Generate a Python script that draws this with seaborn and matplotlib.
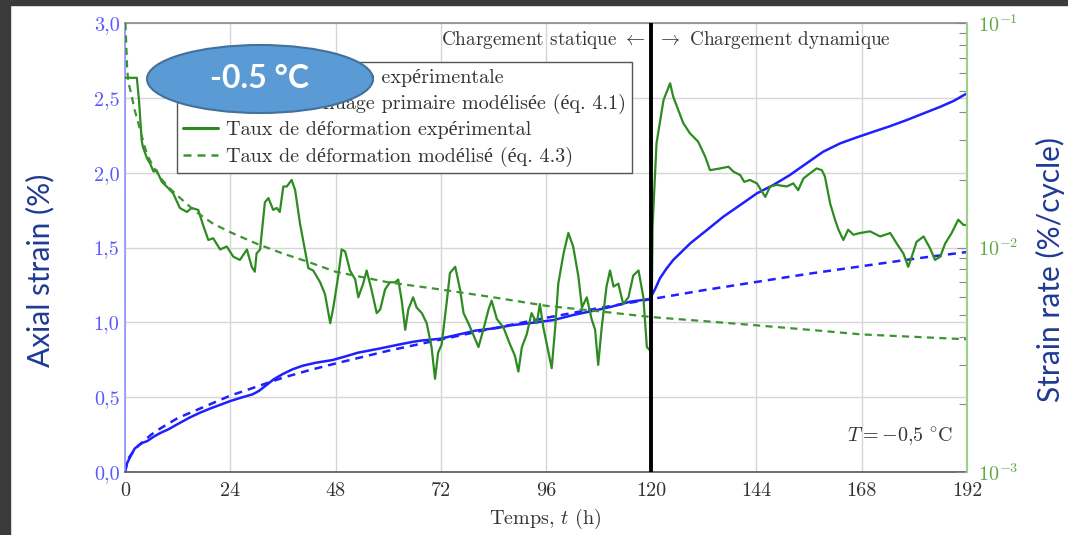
import matplotlib
matplotlib.use("Agg")
import matplotlib.pyplot as plt
import seaborn as sns
from matplotlib.patches import Ellipse, Rectangle
from matplotlib.lines import Line2D
from matplotlib.ticker import FixedLocator, FixedFormatter, NullFormatter

# ---------------- data ----------------
# experimental axial strain (%) vs time (h)
t_strain_exp = [0, 0.5, 1, 1.5, 2.2, 3.2, 4, 5.1, 6.5, 8, 9.9, 12, 14.7, 17, 19.5, 22, 24,
                26.5, 29.1, 30.5, 32, 33.9, 36, 38.2, 40.5, 43.5, 47.3, 50, 53.1, 57.9,
                62.7, 65.7, 67.5, 71.8, 77.2, 80, 84.8, 88, 92.4, 97.7, 102.2, 107.6, 111,
                115.2, 119.7, 120.3, 121, 122, 123.5, 125, 128.9, 132.7, 136.4, 140.3,
                144.1, 147.8, 151.6, 155.4, 159.2, 163.1, 166.8, 170.6, 174.4, 178.2, 182,
                185.9, 189, 192]
strain_exp = [0, 0.06, 0.09, 0.12, 0.156, 0.18, 0.195, 0.207, 0.235, 0.26, 0.285, 0.32,
              0.363, 0.395, 0.425, 0.452, 0.474, 0.497, 0.519, 0.541, 0.575, 0.619, 0.655,
              0.686, 0.71, 0.73, 0.748, 0.77, 0.797, 0.824, 0.853, 0.870, 0.878, 0.890,
              0.926, 0.945, 0.962, 0.98, 0.995, 1.015, 1.049, 1.082, 1.105, 1.138, 1.156,
              1.19, 1.23, 1.295, 1.36, 1.416, 1.528, 1.617, 1.705, 1.784, 1.862, 1.917,
              1.984, 2.062, 2.14, 2.196, 2.235, 2.273, 2.31, 2.351, 2.395, 2.44, 2.48, 2.53]

# modelled primary creep strain (eq. 4.1)
t_strain_mod = [0, 0.5, 1, 2, 3, 4, 6, 8, 12, 16, 20, 24, 30, 36, 42, 48, 60, 72, 84, 96,
                108, 120, 132, 144, 156, 168, 180, 192]
strain_mod = [0, 0.07, 0.10, 0.14, 0.175, 0.20, 0.25, 0.29, 0.36, 0.41, 0.46, 0.51, 0.57,
              0.63, 0.68, 0.725, 0.81, 0.885, 0.96, 1.03, 1.095, 1.155, 1.215, 1.27, 1.325,
              1.375, 1.425, 1.47]

# experimental strain rate (%/cycle)
t_rate_exp = [0, 1.0, 2.0, 2.7, 3.2, 3.8, 4.1, 5.0, 5.7, 6.5, 7.2, 8.4, 9.5, 11.0, 12.5,
              14.1, 15.2, 16.7, 17.8, 19.0, 20.1, 21.7, 23.2, 24.7, 26.2, 27.8, 28.9, 29.6,
              30.0, 30.8, 31.9, 32.7, 33.8, 34.6, 35.3, 36.1, 36.9, 38.0, 38.8, 39.9, 41.0,
              41.8, 42.9, 44.5, 45.6, 46.8, 47.5, 48.6, 49.4, 50.2, 51.3, 52.5, 53.2, 54.3,
              55.1, 56.2, 57.4, 58.2, 59.3, 60.4, 61.6, 62.3, 63.1, 63.9, 64.6, 65.7, 66.5,
              67.7, 68.8, 69.9, 70.7, 71.4, 72.2, 73.4, 74.1, 75.3, 76.4, 77.2, 78.3, 79.4,
              80.6, 81.7, 82.9, 83.6, 84.8, 86.3, 87.8, 88.9, 89.7, 90.5, 91.6, 92.7, 93.9,
              94.6, 95.4, 96.2, 97.3, 98.1, 98.8, 100.0, 101.1, 102.2, 103.4, 104.2, 105.3,
              106.4, 107.2, 107.9, 108.7, 109.8, 110.6, 111.4, 112.5, 113.6, 114.8, 115.9,
              117.1, 118.2, 119.0, 119.6, 120.0, 120.3, 121.2, 122.8, 124.3, 125.0, 127.3,
              128.8, 130.7, 132.3, 133.4, 135.7, 137.6, 138.7, 140.3, 141.2, 142.5, 144.1,
              146.0, 147.1, 148.6, 150.9, 152.4, 153.5, 154.7, 156.2, 157.7, 158.9, 159.6,
              160.8, 161.9, 162.7, 163.8, 164.9, 166.1, 167.6, 169.9, 172.2, 174.5, 176.0,
              177.5, 178.6, 179.4, 180.5, 182.1, 183.6, 184.7, 185.9, 187.0, 188.5, 190.0,
              191.2, 192.0]
rate_exp = [0.057, 0.057, 0.057, 0.057, 0.045, 0.030, 0.028, 0.0250, 0.0237, 0.0218, 0.0221,
            0.0196, 0.0187, 0.0174, 0.0150, 0.0144, 0.0150, 0.0147, 0.0126, 0.0108, 0.0110,
            0.0098, 0.0101, 0.0091, 0.0088, 0.0098, 0.0082, 0.0078, 0.0094, 0.0098, 0.0159,
            0.0166, 0.0147, 0.0150, 0.0144, 0.0187, 0.0187, 0.0200, 0.0180, 0.0128, 0.0098,
            0.0081, 0.0079, 0.0070, 0.0062, 0.0046, 0.0054, 0.0074, 0.0098, 0.0096, 0.0079,
            0.0072, 0.0060, 0.0069, 0.0079, 0.0065, 0.0051, 0.0053, 0.0065, 0.0070, 0.0070,
            0.0072, 0.0058, 0.0043, 0.0053, 0.0060, 0.0054, 0.0051, 0.0046, 0.0036, 0.0026,
            0.0034, 0.0037, 0.0058, 0.0077, 0.0082, 0.0065, 0.0051, 0.0046, 0.0041, 0.0036,
            0.0043, 0.0053, 0.0058, 0.0048, 0.0044, 0.0037, 0.0033, 0.0028, 0.0036, 0.0041,
            0.0051, 0.0046, 0.0056, 0.0044, 0.0037, 0.0029, 0.0044, 0.0069, 0.0094, 0.0116,
            0.0101, 0.0074, 0.0054, 0.0060, 0.0048, 0.0043, 0.0030, 0.0044, 0.0067, 0.0079,
            0.0067, 0.0069, 0.0056, 0.0060, 0.0075, 0.0079, 0.0060, 0.0036, 0.0035, 0.0034,
            0.0124, 0.0291, 0.0454, 0.0539, 0.0470, 0.0358, 0.0323, 0.0296, 0.0254, 0.0221,
            0.0225, 0.0229, 0.0218, 0.0210, 0.0196, 0.0200, 0.0193, 0.0168, 0.0187, 0.0190,
            0.0187, 0.0193, 0.0180, 0.0203, 0.0214, 0.0225, 0.0221, 0.0207, 0.0157, 0.0133,
            0.0120, 0.0108, 0.0120, 0.0114, 0.0116, 0.0118, 0.0112, 0.0116, 0.0104, 0.0094,
            0.0082, 0.0091, 0.0106, 0.0112, 0.0099, 0.0088, 0.0091, 0.0104, 0.0116, 0.0133,
            0.0126, 0.0126]

# modelled strain rate (eq. 4.3)
t_rate_mod = [0.1, 0.5, 0.8, 1.25, 2.2, 3, 3.7, 5, 6.5, 8, 10, 12, 16, 20, 24, 30, 36, 42,
              48, 60, 72, 84, 96, 108, 120, 132, 144, 156, 168, 180, 192]
rate_mod = [0.100, 0.062, 0.054, 0.050, 0.041, 0.036, 0.032, 0.026, 0.0228, 0.0205, 0.0185,
            0.0170, 0.0145, 0.0128, 0.0117, 0.0104, 0.0094, 0.0086, 0.0078, 0.0070, 0.0065,
            0.0060, 0.0055, 0.0052, 0.0049, 0.0047, 0.0045, 0.0043, 0.0041, 0.0040, 0.0039]

x_ticks = [0, 24, 48, 72, 96, 120, 144, 168, 192]
y_ticks = [0.0, 0.5, 1.0, 1.5, 2.0, 2.5, 3.0]
y_tick_labels = ["0,0", "0,5", "1,0", "1,5", "2,0", "2,5", "3,0"]
rate_ticks = [1e-3, 1e-2, 1e-1]
rate_tick_labels = [r"$10^{-3}$", r"$10^{-2}$", r"$10^{-1}$"]

legend_labels = ["Courbe de fluage expérimentale",
                 "Courbe de fluage primaire modélisée (éq. 4.1)",
                 "Taux de déformation expérimental",
                 "Taux de déformation modélisé (éq. 4.3)"]
t_switch = 120

# ---------------- style ----------------
sns.set_theme(style="white")
plt.rcParams["font.family"] = ["cmr10", "Liberation Serif"]
plt.rcParams["mathtext.fontset"] = "cm"
plt.rcParams["axes.formatter.use_mathtext"] = True
plt.rcParams["axes.unicode_minus"] = False

BLUE = "#1f1fff"
GREEN = "#2e8b22"
GREEN_D = "#3c9431"
TXT = "#333333"
FS = 14.5
DASH = (0, (3.2, 2.4))

fig = plt.figure(figsize=(10.68, 5.35), dpi=100)
fig.patch.set_facecolor("white")
# dark slide frame on the left and top
fig.patches.append(Rectangle((0, 0), 10 / 1068, 1, transform=fig.transFigure,
                             color="#3b3b3b", zorder=0))
fig.patches.append(Rectangle((0, 1 - 5 / 535), 1, 5 / 535, transform=fig.transFigure,
                             color="#3b3b3b", zorder=0))

ax = fig.add_axes([125 / 1068, 1 - 472 / 535, 842 / 1068, 449 / 535])
ax2 = ax.twinx()
ax2.set_yscale("log")

# strain curves (left axis)
sns.lineplot(x=t_strain_exp, y=strain_exp, ax=ax, color=BLUE, lw=1.8,
             estimator=None, sort=False)
sns.lineplot(x=t_strain_mod, y=strain_mod, ax=ax, color=BLUE, lw=1.8,
             linestyle=DASH, estimator=None, sort=False)

# strain-rate curves (right axis, log)
sns.lineplot(x=t_rate_exp, y=rate_exp, ax=ax2, color=GREEN, lw=1.6,
             estimator=None, sort=False)
sns.lineplot(x=t_rate_mod, y=rate_mod, ax=ax2, color=GREEN_D, lw=1.6,
             linestyle=DASH, estimator=None, sort=False)

ax2.axvline(t_switch, color="black", lw=2.8, zorder=5)

# axes limits / ticks
ax.set_xlim(0, 192)
ax.set_ylim(0, 3)
ax2.set_ylim(1e-3, 1e-1)
ax.xaxis.set_major_locator(FixedLocator(x_ticks))
ax.set_xticklabels([str(v) for v in x_ticks])
ax.yaxis.set_major_locator(FixedLocator(y_ticks))
ax.yaxis.set_major_formatter(FixedFormatter(y_tick_labels))
ax.grid(True, color="#d6d6d6", lw=1.0)
ax.set_axisbelow(True)
ax.tick_params(axis="x", length=0, pad=7, labelsize=FS, labelcolor=TXT)
ax.tick_params(axis="y", length=0, pad=4, labelsize=FS, labelcolor="#5858ff")
ax.set_xlabel("")
ax.set_ylabel("")

ax2.yaxis.set_major_locator(FixedLocator(rate_ticks))
ax2.yaxis.set_major_formatter(FixedFormatter(rate_tick_labels))
ax2.yaxis.set_minor_formatter(NullFormatter())
ax2.tick_params(axis="y", which="major", direction="in", length=7, width=0.8,
                color="#888888", pad=8, labelsize=FS, labelcolor="#62a84a")
ax2.tick_params(axis="y", which="minor", direction="in", length=6, width=0.8,
                color="#888888")
ax2.set_ylabel("")

# spines
for a in (ax, ax2):
    for s in a.spines.values():
        s.set_visible(False)
ax.spines["left"].set_visible(True)
ax.spines["left"].set_color("#9090ff")
ax.spines["top"].set_visible(True)
ax.spines["top"].set_color("#8a8a8a")
ax.spines["bottom"].set_visible(True)
ax.spines["bottom"].set_color("#555555")
ax2.spines["right"].set_visible(True)
ax2.spines["right"].set_color("#9dd08e")
for s in ("left", "top", "bottom"):
    ax.spines[s].set_linewidth(1.2)
ax2.spines["right"].set_linewidth(1.6)

# annotations inside the plot
ax.text(118.8, 2.886, r"Chargement statique $\leftarrow$", ha="right", va="center",
        fontsize=13.8, color=TXT)
ax.text(121.3, 2.886, r"$\rightarrow$ Chargement dynamique", ha="left", va="center",
        fontsize=13.8, color=TXT)
ax.text(188.8, 0.234, r"$T = -0{,}5\ ^{\circ}\mathrm{C}$", ha="right", va="center",
        fontsize=FS, color=TXT)
fig.text(545 / 1068, 1 - 519 / 535, r"Temps, $t$ (h)", ha="center", va="center",
         fontsize=FS, color=TXT)

# legend
handles = [Line2D([], [], color=BLUE, lw=1.8),
           Line2D([], [], color=BLUE, lw=1.8, linestyle=DASH),
           Line2D([], [], color=GREEN, lw=2.2),
           Line2D([], [], color=GREEN_D, lw=1.8, linestyle=DASH)]
leg = ax2.legend(handles, legend_labels, loc="upper left",
                 bbox_to_anchor=((177 - 125) / 842, (472 - 62) / 449),
                 borderaxespad=0, fontsize=FS, handlelength=1.7, handletextpad=0.4,
                 labelspacing=0.36, borderpad=0.32, frameon=True, fancybox=False,
                 framealpha=1.0, edgecolor="#555555")
leg.get_frame().set_linewidth(1.0)
leg.set_zorder(20)
for txt in leg.get_texts():
    txt.set_color(TXT)

# outer axis titles
fig.text(40 / 1068, 1 - 270 / 535, "Axial strain (%)", rotation=90, ha="center",
         va="center", fontsize=21.5, color="#1f3a93", family="Lato")
fig.text(1050 / 1068, 1 - 269 / 535, "Strain rate (%/cycle)", rotation=90, ha="center",
         va="center", fontsize=21.5, color="#1f3a93", family="Lato")

# temperature badge
fig.add_artist(Ellipse((260 / 1068, 1 - 79 / 535), 226 / 1068, 68 / 535,
                       transform=fig.transFigure, facecolor="#5b9bd5",
                       edgecolor="#41719c", lw=1.5, zorder=30))
fig.text(260 / 1068, 1 - 79 / 535, "-0.5 °C", ha="center", va="center", fontsize=23,
         fontweight="bold", color="white", family="Lato", zorder=31)

fig.savefig("out.png", dpi=100, facecolor="white")
